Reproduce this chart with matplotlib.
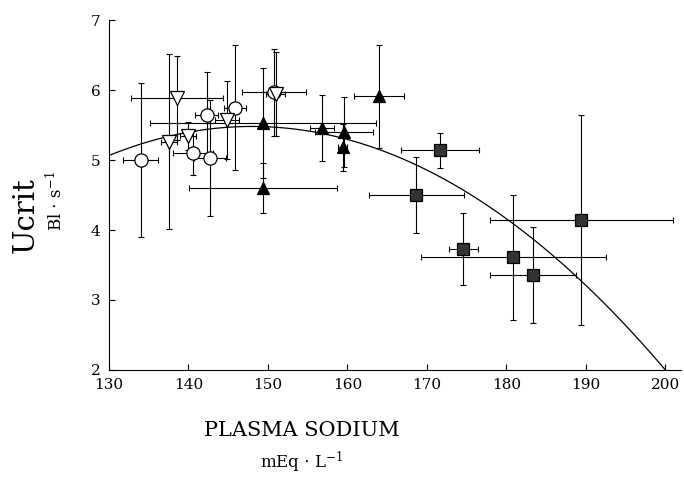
import numpy as np
import matplotlib
matplotlib.use("Agg")
import matplotlib.pyplot as plt

plt.rcParams['font.family'] = ['DejaVu Serif']
plt.rcParams['mathtext.fontset'] = 'dejavuserif'

# open circles
circ_x = [134.0, 140.6, 142.7, 142.3, 145.9, 150.8]
circ_y = [5.00, 5.10, 5.03, 5.64, 5.75, 5.97]
circ_xe = [2.2, 2.5, 2.0, 1.5, 1.4, 4.0]
circ_ye = [1.1, 0.32, 0.83, 0.62, 0.89, 0.62]

# open down-triangles
tri_x = [138.6, 137.6, 140.0, 144.9, 151.0]
tri_y = [5.89, 5.26, 5.35, 5.57, 5.95]
tri_xe = [5.8, 1.0, 1.0, 1.5, 1.2]
tri_ye = [0.60, 1.25, 0.20, 0.56, 0.60]

# filled up-triangles
ftri_x = [149.4, 149.4, 156.8, 159.6, 159.4, 164.0]
ftri_y = [5.53, 4.60, 5.46, 5.40, 5.18, 5.91]
ftri_xe = [14.2, 9.3, 1.5, 3.6, 0.6, 3.1]
ftri_ye = [0.78, 0.36, 0.47, 0.50, 0.34, 0.74]

# filled squares
sq_x = [171.6, 168.7, 174.6, 180.9, 183.4, 189.4]
sq_y = [5.14, 4.50, 3.73, 3.61, 3.36, 4.14]
sq_xe = [4.9, 6.0, 1.8, 11.6, 5.4, 11.5]
sq_ye = [0.25, 0.54, 0.52, 0.89, 0.69, 1.50]

# quadratic fit: y = a*(x-h)^2 + k
fit_a, fit_h, fit_k = -0.001287, 148.0, 5.48

fig = plt.figure(figsize=(6.84, 4.78), dpi=100)
ax = fig.add_axes([0.159, 0.226, 0.837, 0.732])

groups = [
    (circ_x, circ_y, circ_xe, circ_ye, 'o', 'white', 9.5),
    (tri_x, tri_y, tri_xe, tri_ye, 'v', 'white', 9.5),
    (ftri_x, ftri_y, ftri_xe, ftri_ye, '^', 'black', 8.5),
    (sq_x, sq_y, sq_xe, sq_ye, 's', '#333333', 9),
]
for x, y, xe, ye, m, fc, ms in groups:
    ax.errorbar(x, y, xerr=xe, yerr=ye, fmt='none', ecolor='black',
                elinewidth=0.8, capsize=2.5, capthick=0.8, zorder=2)
    ax.plot(x, y, linestyle='none', marker=m, markersize=ms,
            markerfacecolor=fc, markeredgecolor='black', markeredgewidth=0.9, zorder=3)

xs = np.linspace(130, 200, 200)
ax.plot(xs, fit_a * (xs - fit_h) ** 2 + fit_k, color='black', linewidth=0.9, zorder=1)

ax.set_xlim(130, 202)
ax.set_ylim(2, 7)
ax.set_xticks([130, 140, 150, 160, 170, 180, 190, 200])
ax.set_yticks([2, 3, 4, 5, 6, 7])
ax.spines['top'].set_visible(False)
ax.spines['right'].set_visible(False)
for s in ('left', 'bottom'):
    ax.spines[s].set_linewidth(0.8)
ax.tick_params(direction='in', length=4, width=0.8, labelsize=11, pad=6)

fig.text(0.037, 0.55, 'Ucrit', rotation=90, fontsize=21, ha='center', va='center')
fig.text(0.081, 0.58, r'Bl $\cdot$ s$^{-1}$', rotation=90, fontsize=12, ha='center', va='center')
fig.text(0.441, 0.100, 'PLASMA SODIUM', fontsize=15, ha='center', va='center')
fig.text(0.441, 0.032, r'mEq $\cdot$ L$^{-1}$', fontsize=12, ha='center', va='center')

fig.savefig('out.png', dpi=100)
